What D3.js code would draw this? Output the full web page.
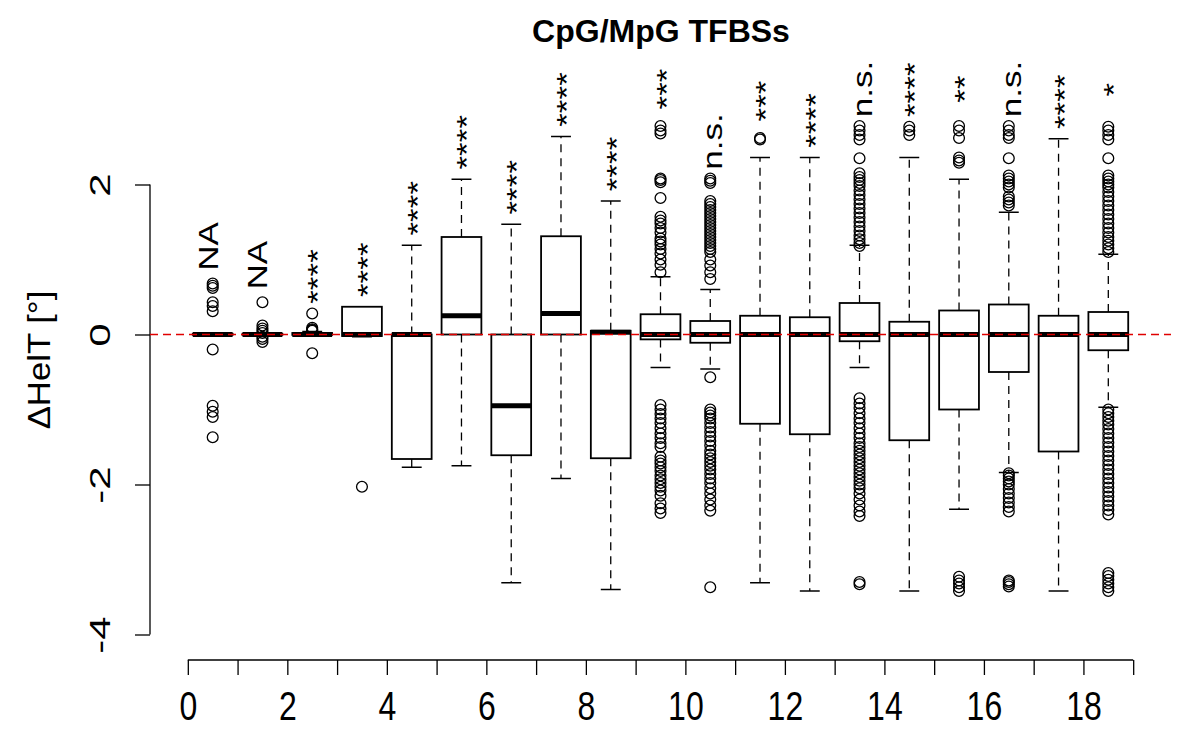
<!DOCTYPE html>
<html>
<head>
<meta charset="utf-8">
<script src="https://cdn.jsdelivr.net/npm/d3@7"></script>
<style>
  html, body { margin: 0; padding: 0; background: #fff; }
  text { font-family: "Liberation Sans", Arial, Helvetica, sans-serif; fill: #000; }
</style>
</head>
<body>
<svg id="chart" width="1200" height="750"></svg>
<script>
// ---------------- data ----------------
const title = "CpG/MpG TFBSs";
const yLabel = "ΔHelT [°]";
const groups = d3.range(19);               // box index, drawn at i + 0.5
const xTicks = d3.range(0, 20);            // ticks every unit
const xTickLabels = [0, 2, 4, 6, 8, 10, 12, 14, 16, 18];
const yTicks = [-4, -2, 0, 2];

const q1      = [-0.005, -0.005, -0.005, -0.02, -1.66, 0.00, -1.61, 0.00, -1.65, -0.065, -0.11, -1.19, -1.33, -0.09, -1.41, -1.00, -0.50, -1.56, -0.21];
const medians = [0, 0, 0, 0, 0, 0.25, -0.95, 0.28, 0.03, 0, 0, 0, 0, 0, 0, 0, 0, 0, 0];
const q3      = [0.01, 0.01, 0.02, 0.37, 0.00, 1.30, 0.00, 1.31, 0.05, 0.27, 0.18, 0.25, 0.23, 0.42, 0.17, 0.32, 0.40, 0.25, 0.30];
const whiskLo = [0, -0.01, -0.01, -0.03, -1.77, -1.75, -3.31, -1.92, -3.40, -0.44, -0.46, -3.31, -3.42, -0.44, -3.42, -2.33, -1.84, -3.42, -0.97];
const whiskHi = [0, 0.01, 0.04, 0.37, 1.19, 2.07, 1.47, 2.64, 1.78, 0.77, 0.60, 2.36, 2.36, 1.19, 2.36, 2.07, 1.63, 2.61, 1.07];

const outliers = [
  [0.68, 0.65, 0.62, 0.43, 0.38, 0.31, -0.2, -0.95, -1.03, -1.1, -1.37],
  [0.43, 0.12, 0.08, 0.05, 0.02, -0.03, -0.06, -0.1],
  [0.28, 0.09, 0.07, 0.06, 0.05, -0.25],
  [-2.03],
  [],
  [],
  [],
  [],
  [],
  [2.78, 2.72, 2.68, 2.08, 2.06, 2.03, 1.82, 1.57, 1.52, 1.48, 1.42, 1.36, 1.28, 1.24, 1.2, 1.14, 1.08, 1.0, 0.93, 0.83,
   -0.94, -1.0, -1.06, -1.12, -1.18, -1.25, -1.32, -1.38, -1.45, -1.5, -1.63, -1.68, -1.72, -1.77, -1.82, -1.88, -1.93, -1.98, -2.03, -2.08, -2.15, -2.25, -2.32, -2.38],
  [2.08, 2.05, 2.02, 1.78, 1.74, 1.7, 1.66, 1.62, 1.58, 1.54, 1.5, 1.46, 1.42, 1.38, 1.34, 1.3, 1.26, 1.22, 1.18, 1.14, 1.1, 1.0, 0.92, 0.83, 0.74,
   -0.57, -1.0, -1.04, -1.08, -1.12, -1.18, -1.24, -1.3, -1.36, -1.42, -1.48, -1.55, -1.6, -1.65, -1.7, -1.75, -1.8, -1.86, -1.92, -1.98, -2.05, -2.12, -2.2, -2.28, -2.35, -3.37],
  [2.62, 2.6],
  [],
  [2.78, 2.72, 2.66, 2.6, 2.35, 2.15, 2.1, 2.06, 2.02, 1.98, 1.92, 1.86, 1.8, 1.74, 1.68, 1.62, 1.56, 1.5, 1.44, 1.38, 1.32, 1.27, 1.22, 1.18,
   -0.85, -0.92, -0.98, -1.05, -1.12, -1.18, -1.25, -1.32, -1.38, -1.45, -1.5, -1.55, -1.6, -1.65, -1.7, -1.75, -1.8, -1.85, -1.9, -1.95, -2.0, -2.05, -2.12, -2.2, -2.28, -2.36, -2.42, -3.3, -3.33],
  [2.77, 2.72, 2.66],
  [2.78, 2.72, 2.62, 2.36, 2.32, 2.29, -3.23, -3.28, -3.32, -3.37, -3.42],
  [2.78, 2.72, 2.66, 2.62, 2.35, 2.12, 2.08, 2.04, 2.0, 1.96, 1.84, 1.8, 1.76, 1.72,
   -1.85, -1.88, -1.92, -1.96, -2.0, -2.06, -2.12, -2.18, -2.24, -2.3, -2.36, -3.28, -3.3, -3.33, -3.36],
  [],
  [2.77, 2.72, 2.66, 2.6, 2.35, 2.12, 2.08, 2.04, 2.0, 1.96, 1.9, 1.84, 1.78, 1.72, 1.66, 1.6, 1.54, 1.48, 1.42, 1.36, 1.3, 1.25, 1.2, 1.15, 1.1,
   -1.0, -1.05, -1.1, -1.15, -1.2, -1.26, -1.32, -1.38, -1.44, -1.5, -1.56, -1.62, -1.68, -1.74, -1.8, -1.86, -1.92, -1.98, -2.04, -2.1, -2.16, -2.22, -2.28, -2.34, -2.4,
   -3.18, -3.22, -3.27, -3.32, -3.37, -3.42]
];

const signif = ["NA", "NA", "****", "****", "****", "****", "****", "****", "****", "***", "n.s.", "***", "****", "n.s.", "****", "**", "n.s.", "****", "*"];

// ---------------- layout ----------------
const svg = d3.select("#chart");
const plotLeft = 150, plotRight = 1171;
const xAxisY = 660;

const x = d3.scaleLinear().domain([-0.76, 19.76]).range([plotLeft, plotRight]);
const y = d3.scaleLinear().domain([0, 2]).range([334.5, 184.5]);
const boxW = x(0.8) - x(0);

// title
svg.append("text")
  .attr("x", 661).attr("y", 42)
  .attr("text-anchor", "middle")
  .style("font-size", "32px").style("font-weight", "bold")
  .text(title);

// y axis
const yAxis = d3.axisLeft(y).tickValues(yTicks).tickSize(15).tickSizeOuter(0).tickFormat("");
const gy = svg.append("g").attr("transform", `translate(${plotLeft},0)`).call(yAxis);
gy.select(".domain").attr("d", `M0,${y(2)}V${y(-4)}`);
gy.selectAll("path,line").attr("stroke", "#000").attr("stroke-width", 1.3);
gy.selectAll(".tick").append("text")
  .attr("transform", "translate(-40,0) scale(1,1.4) rotate(-90)")
  .attr("text-anchor", "middle")
  .style("font-size", "30px")
  .text(d => d);

// y label
svg.append("text")
  .attr("transform", `translate(50,360) scale(1,1.12) rotate(-90)`)
  .attr("text-anchor", "middle")
  .style("font-size", "31px")
  .text(yLabel);

// x axis
const xAxis = d3.axisBottom(x).tickValues(xTicks).tickSize(15).tickSizeOuter(0).tickFormat("");
const gx = svg.append("g").attr("transform", `translate(0,${xAxisY})`).call(xAxis);
gx.select(".domain").attr("d", `M${x(0)},0H${x(19)}`);
gx.selectAll("path,line").attr("stroke", "#000").attr("stroke-width", 1.3);
gx.selectAll(".tick").filter(d => xTickLabels.includes(d)).append("text")
  .attr("transform", "translate(0,60) scale(1,1.28)")
  .attr("text-anchor", "middle")
  .style("font-size", "32px")
  .text(d => d);

// boxes
const g = svg.append("g");
groups.forEach(i => {
  const cx = x(i + 0.5);
  const bg = g.append("g");
  // whiskers (dashed)
  bg.append("line").attr("x1", cx).attr("x2", cx).attr("y1", y(q3[i])).attr("y2", y(whiskHi[i]))
    .attr("stroke", "#000").attr("stroke-width", 1.3).attr("stroke-dasharray", "8,6");
  bg.append("line").attr("x1", cx).attr("x2", cx).attr("y1", y(q1[i])).attr("y2", y(whiskLo[i]))
    .attr("stroke", "#000").attr("stroke-width", 1.3).attr("stroke-dasharray", "8,6");
  // staples
  [whiskHi[i], whiskLo[i]].forEach(v => {
    bg.append("line").attr("x1", cx - boxW / 4).attr("x2", cx + boxW / 4).attr("y1", y(v)).attr("y2", y(v))
      .attr("stroke", "#000").attr("stroke-width", 1.5);
  });
  // box
  bg.append("rect").attr("x", cx - boxW / 2).attr("width", boxW)
    .attr("y", y(q3[i])).attr("height", Math.max(0.1, y(q1[i]) - y(q3[i])))
    .attr("fill", "#fff").attr("stroke", "#000").attr("stroke-width", 1.8);
  // median
  bg.append("line").attr("x1", cx - boxW / 2).attr("x2", cx + boxW / 2)
    .attr("y1", y(medians[i])).attr("y2", y(medians[i]))
    .attr("stroke", "#000").attr("stroke-width", 5);
  // outliers
  bg.selectAll("circle").data(outliers[i]).join("circle")
    .attr("cx", cx).attr("cy", d => y(d)).attr("r", 5.4)
    .attr("fill", "none").attr("stroke", "#000").attr("stroke-width", 1.3);
});

// reference line at 0
svg.append("line").attr("x1", plotLeft).attr("x2", plotRight).attr("y1", y(0)).attr("y2", y(0))
  .attr("stroke", "#e00000").attr("stroke-width", 1.5).attr("stroke-dasharray", "8,5");

// significance labels
groups.forEach(i => {
  const top = d3.max([whiskHi[i], ...outliers[i]]);
  const lab = signif[i];
  const off = lab.startsWith("*") ? 15 : (lab === "NA" ? 5 : 12);
  svg.append("text")
    .attr("transform", `translate(${x(i + 0.5) + off},${y(top) - 37}) scale(1,1.3) rotate(-90)`)
    .attr("text-anchor", "middle")
    .style("font-size", "27px")
    .text(lab);
});
</script>
</body>
</html>
